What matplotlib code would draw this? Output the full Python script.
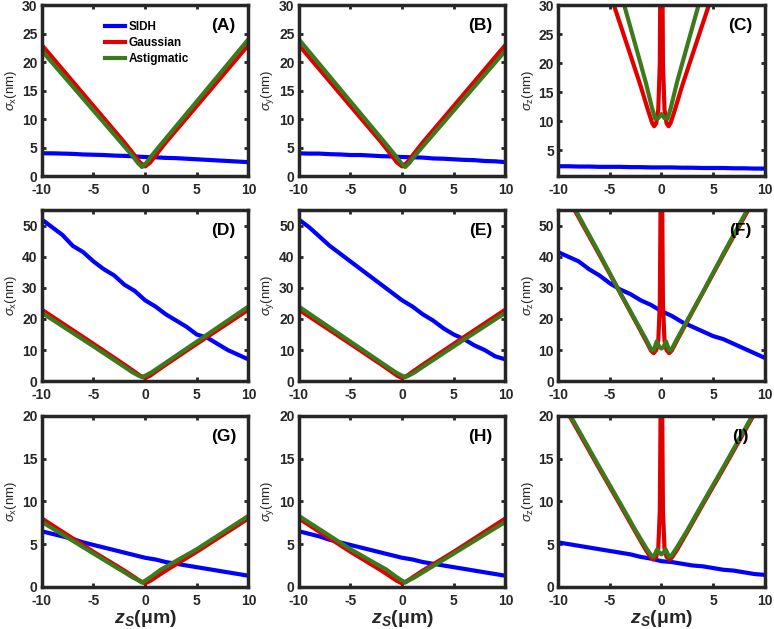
import numpy as np
import matplotlib
matplotlib.use('Agg')
import matplotlib.pyplot as plt

plt.rcParams['font.family'] = ['Liberation Sans', 'DejaVu Sans']
plt.rcParams['axes.unicode_minus'] = False
plt.rcParams['mathtext.fontset'] = 'custom'
plt.rcParams['mathtext.rm'] = 'Liberation Sans'
plt.rcParams['mathtext.it'] = 'Liberation Sans:italic'
plt.rcParams['mathtext.bf'] = 'Liberation Sans:bold'
plt.rcParams['mathtext.bfit'] = 'Liberation Sans:bold:italic'

# === data ===
zs = np.arange(-10, 11, 1)  # blue curves sampled every 1 um

# row 1 (small range)
sidh_a = [4.0, 4.0, 3.95, 3.9, 3.8, 3.75, 3.7, 3.6, 3.55, 3.45, 3.35,
          3.3, 3.2, 3.15, 3.05, 2.95, 2.85, 2.75, 2.65, 2.55, 2.45]
sidh_b = [4.0, 3.95, 3.95, 3.85, 3.8, 3.7, 3.7, 3.6, 3.5, 3.45, 3.35,
          3.3, 3.25, 3.1, 3.05, 2.95, 2.85, 2.8, 2.65, 2.6, 2.45]
sidh_c = [2.2, 2.2, 2.15, 2.15, 2.1, 2.1, 2.1, 2.05, 2.05, 2.0, 2.0,
          2.0, 1.95, 1.95, 1.9, 1.9, 1.9, 1.85, 1.85, 1.8, 1.8]

# row 2 (large range)
sidh_d = [52, 49.5, 47, 43.5, 41.5, 38.5, 36, 34, 31, 29, 26,
          24, 21.5, 19.5, 17.5, 15, 14, 12, 10, 8.5, 7]
sidh_e = [52, 49.5, 46.5, 43.5, 41, 38.5, 36, 33.5, 31, 28.5, 26,
          24, 21.5, 19.5, 17, 15, 13.5, 11.5, 10, 8, 7]
sidh_f = [41.5, 40, 38.5, 36, 34, 31.5, 29.5, 28, 26, 24.5, 22.5,
          21, 19, 17.5, 16, 14.5, 13.5, 12, 10.5, 9, 7.5]

# row 3 (medium range)
sidh_g = [6.5, 6.2, 5.9, 5.6, 5.2, 4.9, 4.6, 4.3, 4.0, 3.7, 3.4,
          3.2, 2.9, 2.7, 2.5, 2.3, 2.1, 1.9, 1.7, 1.5, 1.3]
sidh_h = [6.5, 6.2, 5.9, 5.5, 5.2, 4.9, 4.6, 4.3, 4.0, 3.7, 3.4,
          3.2, 2.9, 2.7, 2.5, 2.3, 2.1, 1.9, 1.7, 1.5, 1.3]
sidh_i = [5.2, 5.0, 4.8, 4.6, 4.4, 4.2, 4.0, 3.8, 3.5, 3.3, 3.0,
          2.9, 2.7, 2.5, 2.4, 2.2, 2.0, 1.9, 1.7, 1.5, 1.4]

# Gaussian / Astigmatic V-shapes for sigma_x / sigma_y
z_v = [-10, -5, -2, -1, -0.5, 0, 0.5, 1, 2, 5, 10]
gauss_x1 = [23, 12.3, 5.9, 3.6, 2.4, 1.7, 2.4, 3.6, 5.9, 12.3, 23]
gauss_x2 = [23, 12, 5.3, 3.0, 1.8, 1.0, 1.8, 3.0, 5.3, 12, 23]
gauss_x3 = [8, 4.1, 1.9, 1.1, 0.7, 0.4, 0.7, 1.1, 1.9, 4.1, 8]

z_astx = [-10, -5, -2, -1.2, -0.7, -0.3, 0.1, 0.6, 1.5, 5, 10]
z_asty = [-10, -5, -1.5, -0.6, -0.1, 0.3, 0.7, 1.2, 2, 5, 10]
astig_x1 = [22, 11.5, 5.2, 3.5, 2.3, 1.6, 2.3, 3.5, 5.5, 13.1, 24]
astig_y1 = [24, 13.1, 5.5, 3.5, 2.3, 1.6, 2.3, 3.5, 5.2, 11.5, 22]
astig_x2 = [22, 11.2, 4.6, 2.8, 1.9, 1.3, 1.9, 2.8, 4.8, 12.7, 24]
astig_y2 = [24, 12.7, 4.8, 2.8, 1.9, 1.3, 1.9, 2.8, 4.6, 11.2, 22]
astig_x3 = [7.6, 3.9, 1.7, 1.1, 0.8, 0.5, 0.8, 1.2, 2.0, 4.4, 8.3]
astig_y3 = [8.3, 4.4, 2.0, 1.2, 0.8, 0.5, 0.8, 1.1, 1.7, 3.9, 7.6]

# sigma_z curves
z_gz_c = [-4.6, -3, -2, -1.3, -0.9, -0.7, -0.5, -0.3, -0.15, -0.05, 0,
          0.05, 0.15, 0.3, 0.5, 0.7, 0.9, 1.3, 2, 3, 4.6]
gauss_z_c = [30, 21.4, 16.0, 11.9, 9.7, 9.1, 9.6, 12, 20, 50, 80,
             50, 20, 12, 9.6, 9.1, 9.7, 11.9, 16.0, 21.4, 30]
z_az_c = [-3.6, -2.5, -1.5, -0.9, -0.6, -0.3, 0, 0.3, 0.6, 0.9, 1.5, 2.5, 3.6]
astig_z_c = [30, 23, 16.6, 12.2, 10.4, 10.5, 11.2, 10.5, 10.4, 12.2, 16.6, 23, 30]

z_gz_f = [-8.4, -6, -4, -2.5, -1.5, -1.0, -0.75, -0.5, -0.3, -0.15, -0.05, 0,
          0.05, 0.15, 0.3, 0.5, 0.75, 1.0, 1.5, 2.5, 4, 6, 8.4]
gauss_z_f = [55, 40.6, 28.4, 19.2, 13, 9.8, 9.0, 10, 13, 25, 70, 120,
             70, 25, 13, 10, 9.0, 9.8, 13, 19.2, 28.4, 40.6, 55]
z_az_f = [-8.3, -6, -4, -2.5, -1.5, -1.0, -0.75, -0.45, -0.2, 0,
          0.2, 0.45, 0.75, 1.0, 1.5, 2.5, 4, 6, 8.3]
astig_z_f = [55, 41, 28.5, 19.5, 13.5, 10.3, 9.8, 12.8, 11, 10.5,
             11, 12.8, 9.8, 10.3, 13.5, 19.5, 28.5, 41, 55]

z_gz_i = [-8.9, -6, -4, -2.5, -1.5, -1.0, -0.8, -0.5, -0.3, -0.15, -0.05, 0,
          0.05, 0.15, 0.3, 0.5, 0.8, 1.0, 1.5, 2.5, 4, 6, 8.9]
gauss_z_i = [20, 13.8, 9.6, 6.4, 4.3, 3.4, 3.2, 3.5, 4.5, 9, 25, 45,
             25, 9, 4.5, 3.5, 3.2, 3.4, 4.3, 6.4, 9.6, 13.8, 20]
z_az_i = [-8.8, -6, -4, -2.5, -1.5, -1.0, -0.75, -0.4, -0.2, 0,
          0.2, 0.4, 0.75, 1.0, 1.5, 2.5, 4, 6, 8.8]
astig_z_i = [20, 14.0, 9.8, 6.6, 4.6, 3.7, 3.5, 4.4, 4.0, 3.8,
             4.0, 4.4, 3.5, 3.7, 4.6, 6.6, 9.8, 14.0, 20]

panel_tags = ['(A)', '(B)', '(C)', '(D)', '(E)', '(F)', '(G)', '(H)', '(I)']
ylabels = [r'$\sigma_{\mathrm{x}}$(nm)', r'$\sigma_{\mathrm{y}}$(nm)', r'$\sigma_{\mathrm{z}}$(nm)']
row_ylim = [(0, 30), (0, 55), (0, 20)]
row_yticks = [np.arange(0, 31, 5), np.arange(0, 51, 10), np.arange(0, 21, 5)]

panels = [
    (sidh_a, (z_v, gauss_x1), (z_astx, astig_x1)),
    (sidh_b, (z_v, gauss_x1), (z_asty, astig_y1)),
    (sidh_c, (z_gz_c, gauss_z_c), (z_az_c, astig_z_c)),
    (sidh_d, (z_v, gauss_x2), (z_astx, astig_x2)),
    (sidh_e, (z_v, gauss_x2), (z_asty, astig_y2)),
    (sidh_f, (z_gz_f, gauss_z_f), (z_az_f, astig_z_f)),
    (sidh_g, (z_v, gauss_x3), (z_astx, astig_x3)),
    (sidh_h, (z_v, gauss_x3), (z_asty, astig_y3)),
    (sidh_i, (z_gz_i, gauss_z_i), (z_az_i, astig_z_i)),
]

c_blue = '#0000ff'
c_red = '#e00000'
c_green = '#3c7a1c'
frame = '#262626'

fig = plt.figure(figsize=(7.74, 6.29), dpi=100)
lefts = [0.054, 0.386, 0.721]
bottoms = [0.720, 0.394, 0.067]
w, h = 0.267, 0.272

for k, (sidh, gauss, astig) in enumerate(panels):
    r, c = divmod(k, 3)
    ax = fig.add_axes([lefts[c], bottoms[r], w, h])
    ax.plot(zs, sidh, color=c_blue, lw=3, label='SIDH')
    ax.plot(gauss[0], gauss[1], color=c_red, lw=3, label='Gaussian')
    ax.plot(astig[0], astig[1], color=c_green, lw=3, label='Astigmatic')
    ax.set_xlim(-10, 10)
    ax.set_ylim(*row_ylim[r])
    ax.set_yticks(row_yticks[r])
    if k == 2:
        ax.set_ylim(0.5, 30)
        ax.set_yticks(np.arange(5, 31, 5))
    ax.set_xticks([-10, -5, 0, 5, 10])
    ax.tick_params(direction='in', top=True, right=True, length=3, width=2,
                   labelsize=10, colors=frame)
    ax.tick_params(axis='x', pad=5)
    ax.tick_params(axis='y', pad=3)
    for lab in ax.get_xticklabels() + ax.get_yticklabels():
        lab.set_fontweight('bold')
    for s in ax.spines.values():
        s.set_linewidth(2.5)
        s.set_color(frame)
    ax.set_ylabel(ylabels[c], fontsize=9.5, labelpad=2, color=frame)
    ax.text(0.88, 0.88, panel_tags[k], transform=ax.transAxes, ha='center',
            va='center', fontsize=12.5, fontweight='bold', color='black')
    if r == 2:
        ax.set_xlabel(r'$\mathbfit{z}_{\mathbfit{S}}$(μm)', fontsize=14,
                      fontweight='bold', labelpad=0, color=frame)
    if k == 0:
        ax.legend(loc='upper left', bbox_to_anchor=(0.27, 0.95), frameon=False,
                  handlelength=1.7, handletextpad=0.3, labelspacing=0.35,
                  prop={'weight': 'bold', 'size': 8.5}, borderaxespad=0.2)

fig.savefig('out.png', dpi=100)
